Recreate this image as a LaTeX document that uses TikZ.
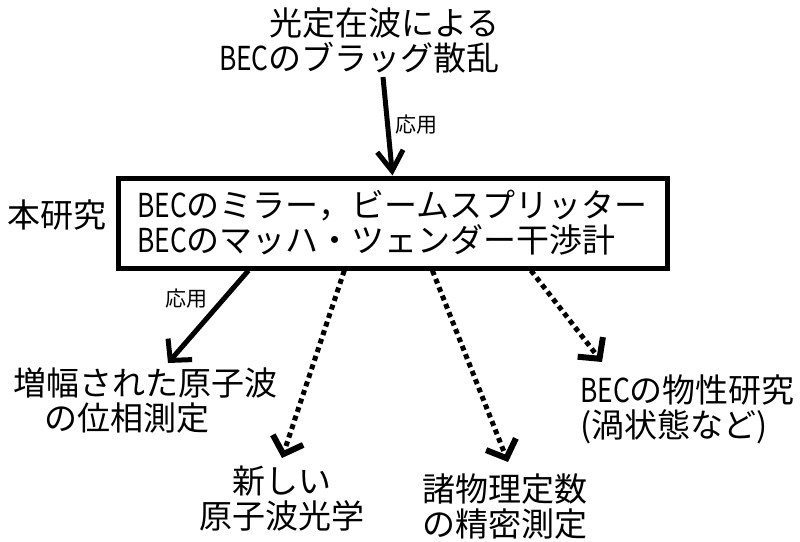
\documentclass[tikz,border=0pt]{standalone}
\usepackage{fontspec}
\usepackage{graphicx}
\setmainfont{Noto Sans CJK JP}
\usetikzlibrary{arrows.meta,calc}
\newcommand\myBEC{\scalebox{0.8}[1]{BEC}}
\begin{document}
\begin{tikzpicture}[x=1pt,y=-1pt,
  big/.style={font=\fontsize{33}{35}\selectfont, inner sep=0pt},
  small/.style={font=\fontsize{21}{23}\selectfont, inner sep=0pt},
  mainbox/.style={draw, line width=5pt, minimum width=549pt, minimum height=90pt, inner sep=0pt, align=left, font=\fontsize{33}{35}\selectfont},
  solidarr/.style={line width=5pt, -{Straight Barb[length=15pt,width=32pt,line width=5pt]}},
  toparr/.style={line width=5pt, -{Straight Barb[length=20pt,width=26pt,line width=5pt]}},
  dotline/.style={line width=5pt, dash pattern=on 5pt off 4pt, shorten >=8pt},
  headonly/.style={solid, line width=5pt, -{Straight Barb[length=15pt,width=32pt,line width=6pt]}}
]
\useasboundingbox (0,0) rectangle (800,541);
\node[big, align=right, anchor=east] (top) at (500,40) {光定在波による\\\myBEC のブラッグ散乱};
\node[mainbox] (box) at (392.5,223) {\myBEC のミラー，ビームスプリッター\\\myBEC のマッハ・ツェンダー干渉計};
\node[big] (hon) at (57,215) {本研究};
\coordinate (a0) at (383,77);
\draw[toparr] (a0) -- (box.north);
\node[small] (l0) at (416,125) {応用};
\node[big, align=left, anchor=west] (t1) at (13,401) {増幅された原子波\\\hspace{0.95em}の位相測定};
\node[big, align=center] (t2) at (282,499) {新しい\\原子波光学};
\node[big, align=center] (t3) at (505,507) {諸物理定数\\の精密測定};
\node[big, align=left, anchor=west] (t4) at (580,409) {\myBEC の物性研究\\(渦状態など)};
\coordinate (s1) at ($(box.south west)!0.240!(box.south east)$);
\coordinate (s2) at ($(box.south west)!0.413!(box.south east)$);
\coordinate (s3) at ($(box.south west)!0.572!(box.south east)$);
\coordinate (s4) at ($(box.south west)!0.750!(box.south east)$);
\coordinate (e1) at (168,363);
\coordinate (e2) at (282,458);
\coordinate (e3) at (508,462);
\coordinate (e4) at (602,362);
\draw[solidarr] (s1) -- (e1);
\node[small] (l1) at (186,299) {応用};
\draw[dotline] (s2) -- (e2);
\draw[headonly] ($(e2)!3pt!(s2)$) -- (e2);
\draw[dotline] (s3) -- (e3);
\draw[headonly] ($(e3)!3pt!(s3)$) -- (e3);
\draw[dotline] (s4) -- (e4);
\draw[headonly] ($(e4)!3pt!(s4)$) -- (e4);
\end{tikzpicture}
\end{document}
